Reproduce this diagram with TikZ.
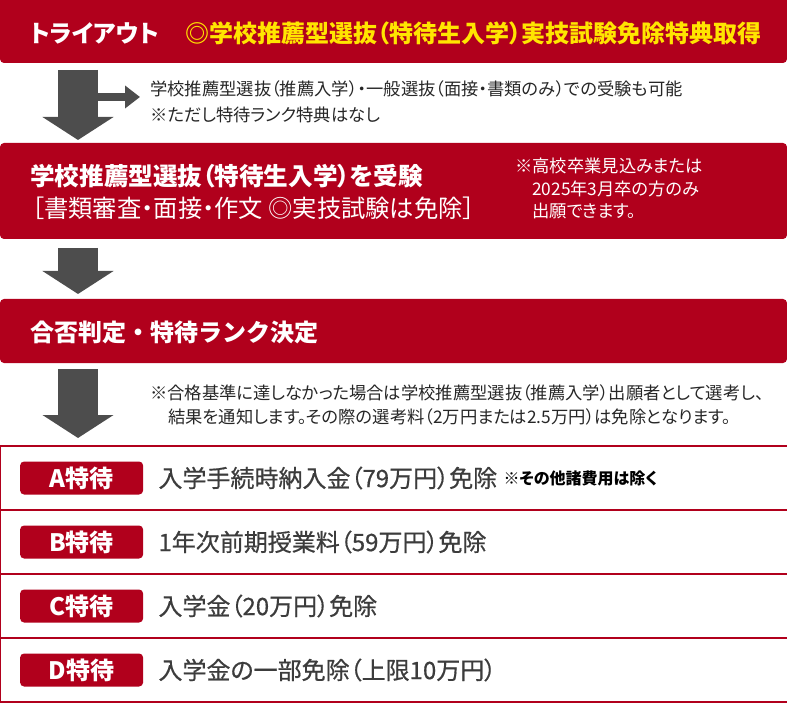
\documentclass[tikz,border=0pt]{standalone}
\usepackage{fontspec}
\setmainfont{Noto Sans CJK JP}
\newfontfamily\jpp{Noto Sans CJK JP}[RawFeature=+palt]
\newfontfamily\jpm{Noto Sans CJK JP}[RawFeature=+palt, UprightFeatures={FakeBold=0.6}]
\usetikzlibrary{positioning, arrows.meta}
\definecolor{crimson}{HTML}{B1001C}
\definecolor{gold}{HTML}{FFE500}
\definecolor{arrowgray}{HTML}{4D4D4D}
\definecolor{ink}{HTML}{262626}
\tikzset{
  band/.style={fill=crimson, rounded corners=4pt, minimum width=787pt,
    anchor=north west, inner sep=0pt, outer sep=0pt},
  headline/.style={anchor=west, inner sep=0pt, text=white,
    font=\jpp\bfseries\fontsize{24}{24}\selectfont},
  subline/.style={anchor=west, inner sep=0pt, text=white,
    font=\jpp\fontsize{24.3}{24}\selectfont},
  remark/.style={anchor=west, inner sep=0pt, text=ink,
    font=\jpp\fontsize{17.3}{17}\selectfont},
  rowbox/.style={draw=crimson, line width=1.2pt, minimum width=787pt,
    minimum height=64pt, anchor=north west, inner sep=0pt, outer sep=0pt},
  badge/.style={fill=crimson, rounded corners=4pt, minimum width=123pt,
    minimum height=33pt, inner sep=0pt, text=white,
    font=\jpp\bfseries\fontsize{24}{24}\selectfont},
  item/.style={anchor=west, inner sep=0pt, text=ink!90,
    font=\jpm\fontsize{24}{24}\selectfont},
  bigflow/.style={arrowgray, line width=40pt,
    -{Triangle[width=70pt, length=23pt]}},
  sideflow/.style={arrowgray, line width=8pt,
    -{Triangle[width=22pt, length=15pt]}},
}

\begin{document}
\begin{tikzpicture}[x=1pt, y=-1pt]
  \useasboundingbox (0,0) rectangle (787,703);

  % red bands
  \node[band, minimum height=67pt] (tryout) at (0,-4) {};
  \node[band, minimum height=96pt] (exam)   at (0,143) {};
  \node[band, minimum height=64pt] (result) at (0,299) {};

  \node[headline] (tryouttitle) at (30,33) {トライアウト};
  \node[headline, text=gold] (perk) at (185,33)
    {◎学校推薦型選抜（特待生入学）実技試験免除特典取得};

  \node[headline, font=\jpp\bfseries\fontsize{24.6}{24}\selectfont]
    (examtitle) at (30,176) {学校推薦型選抜（特待生入学）を受験};
  \node[subline]  (examitems) at (32,208) {［書類審査・面接・作文 ◎実技試験は免除］};
  \node[remark, text=white] (elig1) at (515,166) {※高校卒業見込みまたは};
  \node[remark, text=white] (elig2) at (532,189) {2025年3月卒の方のみ};
  \node[remark, text=white] (elig3) at (532,211) {出願できます。};

  \node[headline, font=\bfseries\fontsize{24}{24}\selectfont]
    (resulttitle) at (30,332) {合否判定・特待ランク決定};

  % notes beside the arrows
  \node[remark] (other1) at (150,89)  {学校推薦型選抜（推薦入学）・一般選抜（面接・書類のみ）での受験も可能};
  \node[remark] (other2) at (150,115) {※ただし特待ランク特典はなし};
  \node[remark] (fail1)  at (150,393) {※合格基準に達しなかった場合は学校推薦型選抜（推薦入学）出願者として選考し、};
  \node[remark] (fail2)  at (168,417) {結果を通知します。その際の選考料（2万円または2.5万円）は免除となります。};

  % flow arrows
  \coordinate (spine) at (78,0);
  \draw[bigflow] (tryout.south -| spine) ++(0,7) coordinate (a1) -- ([yshift=3pt]exam.north -| spine);
  \draw[bigflow] ([yshift=-9pt]exam.south -| spine) -- ([yshift=5pt]result.north -| spine);
  \draw[bigflow] ([yshift=-6pt]result.south -| spine) -- (78,438);
  \coordinate (branch) at (98,97);
  \draw[sideflow] (branch) -- ([xshift=-10pt]other1.west |- branch);

  % rank table
  \node[rowbox] (rowA) at (0.6,446) {};
  \node[rowbox] (rowB) at (0.6,510) {};
  \node[rowbox] (rowC) at (0.6,574) {};
  \node[rowbox] (rowD) at (0.6,638) {};

  \node[badge] (badgeA) at ([xshift=81pt]rowA.west) {A特待};
  \node[badge] (badgeB) at ([xshift=81pt]rowB.west) {B特待};
  \node[badge] (badgeC) at ([xshift=81pt]rowC.west) {C特待};
  \node[badge] (badgeD) at ([xshift=81pt]rowD.west) {D特待};

  \node[item, right=15pt of badgeA] (itemA) {入学手続時納入金（79万円）免除};
  \node[remark, right=6pt of itemA, text=black,
    font=\jpp\bfseries\fontsize{16}{16}\selectfont] (itemAnote) {※その他諸費用は除く};
  \node[item, right=15pt of badgeB] (itemB) {1年次前期授業料（59万円）免除};
  \node[item, right=15pt of badgeC] (itemC) {入学金（20万円）免除};
  \node[item, right=15pt of badgeD] (itemD) {入学金の一部免除（上限10万円）};
\end{tikzpicture}
\end{document}
